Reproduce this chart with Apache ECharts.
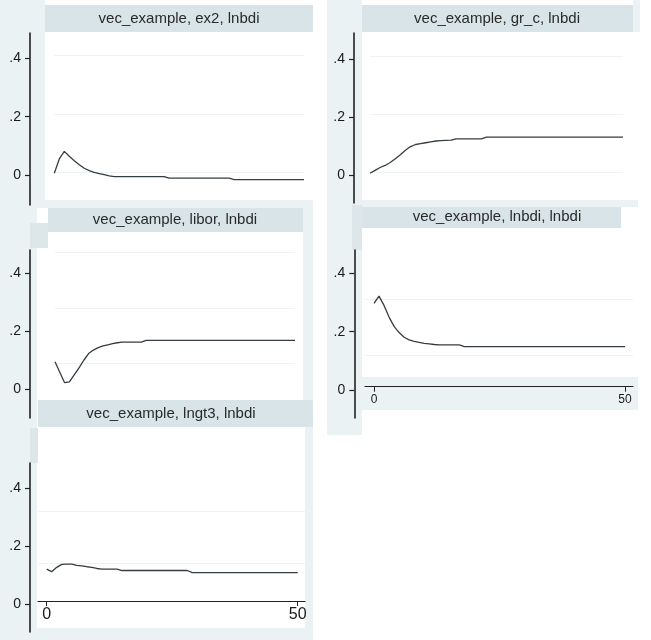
<!DOCTYPE html>
<html><head><meta charset="utf-8">
<script src="https://cdn.jsdelivr.net/npm/echarts@6/dist/echarts.min.js"></script>
<style>html,body{margin:0;padding:0;background:#fff}#c{width:651px;height:640px}</style>
</head><body><div id="c"></div>
<script>
// ---- data ----
const horizon = Array.from({length: 51}, (_, i) => i);
const panelTitles = ['vec_example, ex2, lnbdi', 'vec_example, gr_c, lnbdi', 'vec_example, libor, lnbdi', 'vec_example, lnbdi, lnbdi', 'vec_example, lngt3, lnbdi'];
const yTickValues = [0, 0.2, 0.4];
const xTickValues = [0, 50];

const irfEx2 = [0.006, 0.055, 0.081, 0.064, 0.049, 0.035, 0.023, 0.015, 0.009, 0.005, 0.001, -0.003,
  -0.006, -0.006, -0.006, -0.006, -0.006, -0.006, -0.006, -0.006, -0.006, -0.006, -0.006,
  -0.011, -0.011, -0.011, -0.011, -0.011, -0.011, -0.011, -0.011, -0.011, -0.011, -0.011, -0.011, -0.011,
  -0.016, -0.016, -0.016, -0.016, -0.016, -0.016, -0.016, -0.016, -0.016, -0.016, -0.016, -0.016, -0.016, -0.016, -0.016];
const irfGrc = [0.008, 0.018, 0.028, 0.035, 0.045, 0.058, 0.072, 0.087, 0.100, 0.107, 0.110, 0.113, 0.116, 0.119, 0.120, 0.121, 0.122,
  0.126, 0.126, 0.126, 0.126, 0.126, 0.126,
  0.132, 0.132, 0.132, 0.132, 0.132, 0.132, 0.132, 0.132, 0.132, 0.132, 0.132, 0.132, 0.132, 0.132,
  0.132, 0.132, 0.132, 0.132, 0.132, 0.132, 0.132, 0.132, 0.132, 0.132, 0.132, 0.132, 0.132, 0.132];
const irfLibor = [0.095, 0.059, 0.023, 0.026, 0.050, 0.074, 0.100, 0.123, 0.135, 0.143, 0.149, 0.153, 0.157, 0.160,
  0.162, 0.162, 0.162, 0.162, 0.162,
  0.168, 0.168, 0.168, 0.168, 0.168, 0.168, 0.168, 0.168, 0.168, 0.168, 0.168, 0.168, 0.168, 0.168, 0.168, 0.168,
  0.168, 0.168, 0.168, 0.168, 0.168, 0.168, 0.168, 0.168, 0.168, 0.168, 0.168, 0.168, 0.168, 0.168, 0.168, 0.168];
const irfLnbdi = [0.297, 0.322, 0.290, 0.250, 0.218, 0.197, 0.181, 0.172, 0.167, 0.163, 0.160, 0.158, 0.156,
  0.155, 0.155, 0.155, 0.155, 0.155,
  0.149, 0.149, 0.149, 0.149, 0.149, 0.149, 0.149, 0.149, 0.149, 0.149, 0.149, 0.149, 0.149, 0.149, 0.149, 0.149, 0.149,
  0.149, 0.149, 0.149, 0.149, 0.149, 0.149, 0.149, 0.149, 0.149, 0.149, 0.149, 0.149, 0.149, 0.149, 0.149, 0.149];
const irfLngt3 = [0.121, 0.112, 0.127, 0.137, 0.138, 0.138, 0.134, 0.132, 0.129, 0.127, 0.123,
  0.121, 0.121, 0.121, 0.121,
  0.116, 0.116, 0.116, 0.116, 0.116, 0.116, 0.116, 0.116, 0.116, 0.116, 0.116, 0.116, 0.116, 0.116,
  0.109, 0.109, 0.109, 0.109, 0.109, 0.109, 0.109, 0.109, 0.109, 0.109, 0.109, 0.109, 0.109, 0.109, 0.109, 0.109,
  0.109, 0.109, 0.109, 0.109, 0.109, 0.109];
const gridValues = [[0.006, 0.206, 0.411], [0.012, 0.209, 0.41], [0.09, 0.279, 0.468], [0.12, 0.306], [0.145, 0.323]];
const seriesData = [irfEx2, irfGrc, irfLibor, irfLnbdi, irfLngt3];

// ---- layout ----
const LB = '#eaf2f3', TB = '#d9e4e8', TB2 = '#dde7ea';
const panels = [
  {left: 54.3, top: 33, width: 249.7, height: 172, yMin: -0.103, yMax: 0.487, yOff: 24.3, xMin: 0, xMax: 50, showX: false, tx: 179, ty: 19},
  {left: 370, top: 33, width: 253, height: 170, yMin: -0.094, yMax: 0.490, yOff: 16, xMin: 0, xMax: 50, showX: false, tx: 497, ty: 19},
  {left: 55, top: 250, width: 240, height: 168, yMin: -0.098, yMax: 0.478, yOff: 25, xMin: 0, xMax: 50, showX: false, tx: 175, ty: 220},
  {left: 365, top: 250, width: 268, height: 168, yMin: -0.096, yMax: 0.480, yOff: 10.7, xMin: -1.79, xMax: 51.59, showX: true, xOff: -31.3, xFont: 12, xMargin: 7, tx: 497, ty: 217},
  {left: 38, top: 463, width: 267, height: 169, yMin: -0.095, yMax: 0.485, yOff: 8, xMin: -1.73, xMax: 51.45, showX: true, xOff: -31, xFont: 16, xMargin: 6, tx: 171, ty: 414}
];
const rects = [
  [0, 0, 45, 205, LB], [45, 5, 268, 27, TB], [37, 200, 276, 8, LB], [0, 205, 37, 435, LB],
  [30, 223, 18, 25, TB2], [48, 208, 255, 24, TB], [303, 200, 10, 200, LB],
  [38, 400, 275, 27, TB], [305, 427, 8, 213, LB], [0, 628, 313, 12, LB], [30, 428, 8, 35, TB2],
  [327, 0, 35, 435, LB], [362, 5, 271, 27, TB], [633, 0, 7, 32, LB], [362, 200, 276, 7, LB],
  [362, 207, 259, 21, TB], [352, 205, 10, 45, TB2], [362, 377, 276, 33, LB]
];

const graphic = rects.map((r, i) => ({type: 'rect', z: 0, z2: i, silent: true,
  shape: {x: r[0], y: r[1], width: r[2], height: r[3]}, style: {fill: r[4]}}));
panels.forEach((p, i) => graphic.push({type: 'text', z: 20, x: p.tx, y: p.ty, silent: true,
  style: {text: panelTitles[i], fill: '#2a2a2a', font: '15px "Liberation Sans", Arial, sans-serif', align: 'center', verticalAlign: 'middle'}}));

const axisCol = '#222';
const option = {
  animation: false,
  backgroundColor: '#fff',
  graphic: graphic,
  grid: panels.map(p => ({left: p.left, top: p.top, width: p.width, height: p.height, containLabel: false, z: 5})),
  xAxis: panels.map((p, i) => ({
    type: 'value', gridIndex: i, min: p.xMin, max: p.xMax, show: p.showX, offset: p.xOff || 0, z: 5,
    axisLine: {show: true, onZero: false, lineStyle: {color: axisCol, width: 1.2}},
    axisTick: {show: true, length: 5, customValues: xTickValues, lineStyle: {color: axisCol, width: 1}},
    axisLabel: {show: true, customValues: xTickValues, fontSize: p.xFont || 14, margin: p.xMargin || 7, color: '#1a1a1a', fontFamily: '"Liberation Sans", Arial, sans-serif'},
    splitLine: {show: false}
  })),
  yAxis: panels.map((p, i) => ({
    type: 'value', gridIndex: i, min: p.yMin, max: p.yMax, offset: p.yOff, z: 5,
    axisLine: {show: true, onZero: false, lineStyle: {color: axisCol, width: 1.6}},
    axisTick: {show: true, length: 5, customValues: yTickValues, lineStyle: {color: axisCol, width: 1.2}},
    axisLabel: {show: true, customValues: yTickValues, fontSize: 14, margin: 9, color: '#1a1a1a', fontFamily: '"Liberation Sans", Arial, sans-serif',
      formatter: v => (Math.abs(v) < 1e-9 ? '0' : String(+v.toFixed(2)).replace(/^0\./, '.'))},
    splitLine: {show: false}
  })),
  series: panels.map((p, i) => ({
    type: 'line', xAxisIndex: i, yAxisIndex: i, z: 6,
    data: horizon.map((h, k) => [h, seriesData[i][k]]),
    showSymbol: false, symbol: 'none',
    lineStyle: {color: '#353d42', width: 1.3},
    markLine: {silent: true, symbol: ['none', 'none'], label: {show: false}, animation: false,
      lineStyle: {color: '#f0f3f3', width: 1, type: 'solid'},
      data: gridValues[i].map(v => ({yAxis: v}))}
  }))
};
echarts.init(document.getElementById('c'), null, {renderer: 'canvas'}).setOption(option);
</script></body></html>
